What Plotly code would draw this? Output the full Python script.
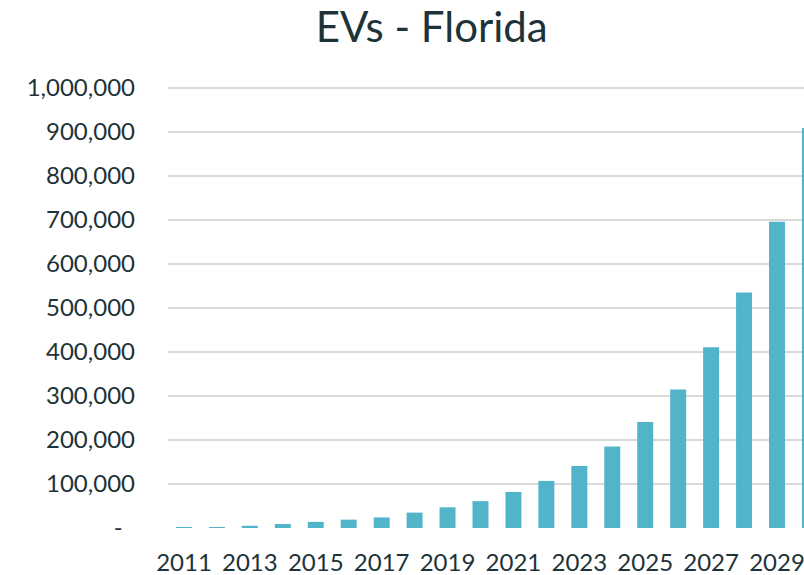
import plotly.graph_objects as go

years = list(range(2011, 2031))
evs = [500, 2000, 5000, 9000, 14000, 19000, 24000, 35000, 47000, 61000,
       82000, 107000, 141000, 185000, 241000, 315000, 411000, 535000, 696000, 909000]

y_tickvals = [0, 100000, 200000, 300000, 400000, 500000, 600000, 700000, 800000, 900000, 1000000]
y_ticktext = ["-  ", "100,000", "200,000", "300,000", "400,000", "500,000",
              "600,000", "700,000", "800,000", "900,000", "1,000,000"]
x_tickvals = list(range(2011, 2030, 2))
x_ticktext = [str(v) for v in x_tickvals]

txt = "#1d3338"
fig = go.Figure(go.Bar(x=years, y=evs, marker=dict(color="#52b4c9", line=dict(width=0)), width=0.485))
fig.update_layout(
    width=804, height=575,
    margin=dict(l=168, r=0, t=86, b=47),
    paper_bgcolor="white", plot_bgcolor="white",
    title=dict(text="EVs - Florida", x=0.537, xanchor="center", y=0.953, yanchor="middle",
               font=dict(family="Lato", size=42, color=txt)),
    font=dict(family="Lato", size=24, color=txt),
    showlegend=False,
)
fig.update_xaxes(range=[2010.515, 2029.82], tickvals=x_tickvals, ticktext=x_ticktext,
                 showgrid=False, zeroline=False, showline=False, ticks="", automargin=False,
                 ticklabeloverflow="allow",
                 ticklabelstandoff=18, tickfont=dict(size=24, color=txt))
fig.update_yaxes(range=[0, 1004545], tickvals=y_tickvals, ticktext=y_ticktext,
                 showgrid=True, gridcolor="#d9d9d9", gridwidth=2, zeroline=False, automargin=False,
                 ticklabeloverflow="allow",
                 showline=False, ticks="", ticklabelstandoff=32, tickfont=dict(size=24, color=txt))
fig.write_html("out.html", config={"displayModeBar": False},
               post_script="document.body.style.margin='0';document.body.style.overflow='hidden';")
